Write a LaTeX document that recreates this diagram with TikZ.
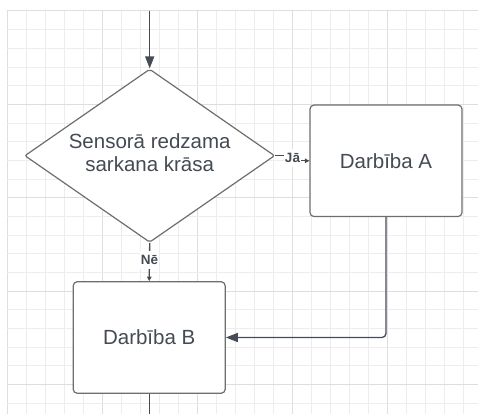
\documentclass[tikz,border=0pt]{standalone}
\usepackage{fontspec}
\setmainfont{Liberation Sans}
\usetikzlibrary{shapes.geometric,arrows.meta}
\definecolor{gridminor}{HTML}{EDEDED}
\definecolor{gridmajor}{HTML}{DEDEDE}
\definecolor{inkline}{HTML}{454C55}
\definecolor{boxline}{HTML}{6E6E6E}
\definecolor{inktext}{HTML}{444B54}
\tikzset{
  shapetext/.style={font=\fontsize{20.5}{23.5}\selectfont, text=inktext, align=center},
  processbox/.style={draw=boxline, line width=1.2pt, rounded corners=4pt, fill=white,
    minimum width=152pt, minimum height=111.5pt, inner sep=0pt, shapetext},
  decision/.style={diamond, draw=boxline, line width=1.2pt, rounded corners=2pt, fill=white,
    aspect=1.443, minimum width=250pt, minimum height=173.3pt, inner sep=0pt, shapetext},
  flow/.style={draw=inkline, line width=1.3pt},
  bigtip/.style={-{Triangle[length=12pt,width=9pt]}},
  smalltip/.style={-{Triangle[length=4.5pt,width=4.5pt]}},
  branchlabel/.style={fill=white, font=\bfseries\fontsize{13.5}{15}\selectfont, text=inktext,
    inner xsep=1pt, inner ysep=4pt}
}
\begin{document}
\begin{tikzpicture}[x=1pt, y=-1pt]
  \useasboundingbox (0,0) rectangle (478,414);
  % background grid
  \foreach \i in {0,...,25} {
    \pgfmathtruncatemacro{\m}{mod(\i,5)}
    \ifnum\m=0 \def\gc{gridmajor}\else\def\gc{gridminor}\fi
    \draw[\gc, line width=1pt] ({7+19*\i},11) -- ({7+19*\i},414);
  }
  \foreach \j in {0,...,21} {
    \pgfmathtruncatemacro{\m}{mod(\j,5)}
    \ifnum\m=0 \def\gc{gridmajor}\else\def\gc{gridminor}\fi
    \draw[\gc, line width=1pt] (7,{11+18.67*\j}) -- (478,{11+18.67*\j});
  }

  % shapes
  \node[decision] (dec) at (149.7,155.7) {};
  \node[shapetext] (dectext) at (149.7,152.5) {Sensorā redzama\\sarkana krāsa};
  \node[processbox] (actA) at (386,160.8) {Darbība A};
  \node[processbox] (actB) at (149.2,337.5) {Darbība B};

  \coordinate (entry) at (149.7,11);
  \coordinate (exit) at (149.2,414);
  \coordinate (jog) at (292.5,155.7);

  % connectors
  \draw[flow, bigtip] (entry) -- (dec.north);
  \draw[flow, smalltip] (dec.east) -- (jog) |- (actA.west);
  \node[branchlabel] at (292.5,158) {Jā};
  \draw[flow, smalltip] (dec.south) -- (actB.north);
  \node[branchlabel] at (149.5,260) {Nē};
  \draw[flow, bigtip, rounded corners=4pt] (actA.south) |- (actB.east);
  \draw[flow] (actB.south) -- (exit);
\end{tikzpicture}
\end{document}
